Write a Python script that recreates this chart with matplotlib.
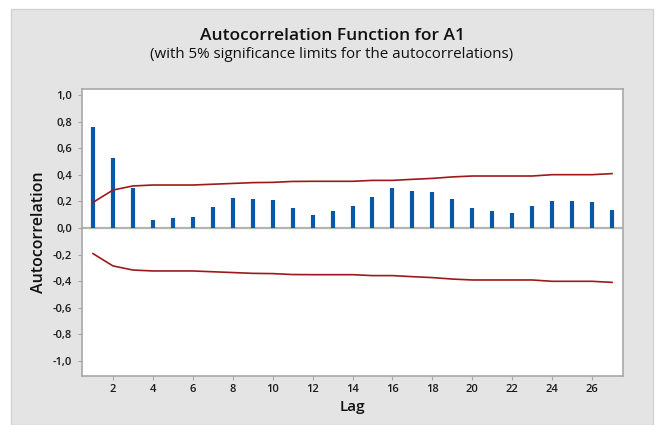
import matplotlib
matplotlib.use("Agg")
import matplotlib.pyplot as plt
from matplotlib.patches import Rectangle
import numpy as np

lags = list(range(1, 28))
acf = [0.76, 0.528, 0.30, 0.063, 0.072, 0.083, 0.158, 0.226, 0.216, 0.208,
       0.151, 0.10, 0.13, 0.166, 0.234, 0.30, 0.281, 0.274, 0.216, 0.148,
       0.13, 0.115, 0.166, 0.206, 0.206, 0.198, 0.138]
upper = [0.193, 0.286, 0.317, 0.324, 0.324, 0.324, 0.330, 0.336, 0.342, 0.344,
         0.351, 0.352, 0.352, 0.352, 0.359, 0.359, 0.367, 0.374, 0.385, 0.392,
         0.392, 0.392, 0.392, 0.402, 0.402, 0.402, 0.41]
lower = [-u for u in upper]
ytick_vals = [1.0, 0.8, 0.6, 0.4, 0.2, 0.0, -0.2, -0.4, -0.6, -0.8, -1.0]
ytick_labels = ["1,0", "0,8", "0,6", "0,4", "0,2", "0,0", "-0,2", "-0,4", "-0,6", "-0,8", "-1,0"]
xtick_vals = list(range(2, 27, 2))

W, H = 662, 425
fig = plt.figure(figsize=(W / 100, H / 100), dpi=100)
fig.patch.set_facecolor("white")
bg = Rectangle((11 / W, 0), (653 - 11) / W, (H - 9) / H,
               transform=fig.transFigure, facecolor="#e4e4e4",
               edgecolor="#d2d2d2", linewidth=1.0, zorder=-10)
fig.add_artist(bg)

ax = fig.add_axes([82 / W, 1 - 376 / H, (623 - 82) / W, (376 - 89) / H])
ax.set_zorder(1)
ax.set_facecolor("white")

ax.axhline(0, color="#b4b4b4", linewidth=1.6, zorder=1)
ax.vlines(lags, 0, acf, colors="#0a57a8", linewidth=3.0, zorder=3)
ax.plot(lags, upper, color="#9e1a1a", linewidth=1.2, zorder=4)
ax.plot(lags, lower, color="#9e1a1a", linewidth=1.2, zorder=4)

ax.set_xlim(0.45, 27.55)
ax.set_ylim(-1.116, 1.048)
ax.set_yticks(ytick_vals)
ax.set_yticklabels(ytick_labels)
ax.set_xticks(xtick_vals)

font = "Open Sans"
for lbl in ax.get_yticklabels() + ax.get_xticklabels():
    lbl.set_fontfamily(font)
    lbl.set_fontsize(8)
    lbl.set_fontweight("semibold")
    lbl.set_color("#1a1a1a")

for s in ax.spines.values():
    s.set_color("#a8a8a8")
    s.set_linewidth(1.2)
ax.tick_params(axis="both", direction="out", length=3, width=0.8, color="#a8a8a8", pad=3)
ax.tick_params(axis="y", pad=4)

ax.set_ylabel("Autocorrelation", fontfamily=font, fontsize=11.5, fontweight="semibold",
              color="#111111", labelpad=4)
ax.set_xlabel("Lag", fontfamily=font, fontsize=11, fontweight="semibold",
              color="#111111", labelpad=3)

fig.text(332 / W, 1 - 36 / H, "Autocorrelation Function for A1", ha="center", va="center",
         fontfamily=font, fontsize=12.5, fontweight="semibold", color="#111111")
fig.text(332 / W, 1 - 55 / H, "(with 5% significance limits for the autocorrelations)",
         ha="center", va="center", fontfamily=font, fontsize=10.9, fontweight="normal",
         color="#111111")

fig.savefig("out.png", dpi=100, facecolor=fig.get_facecolor())
